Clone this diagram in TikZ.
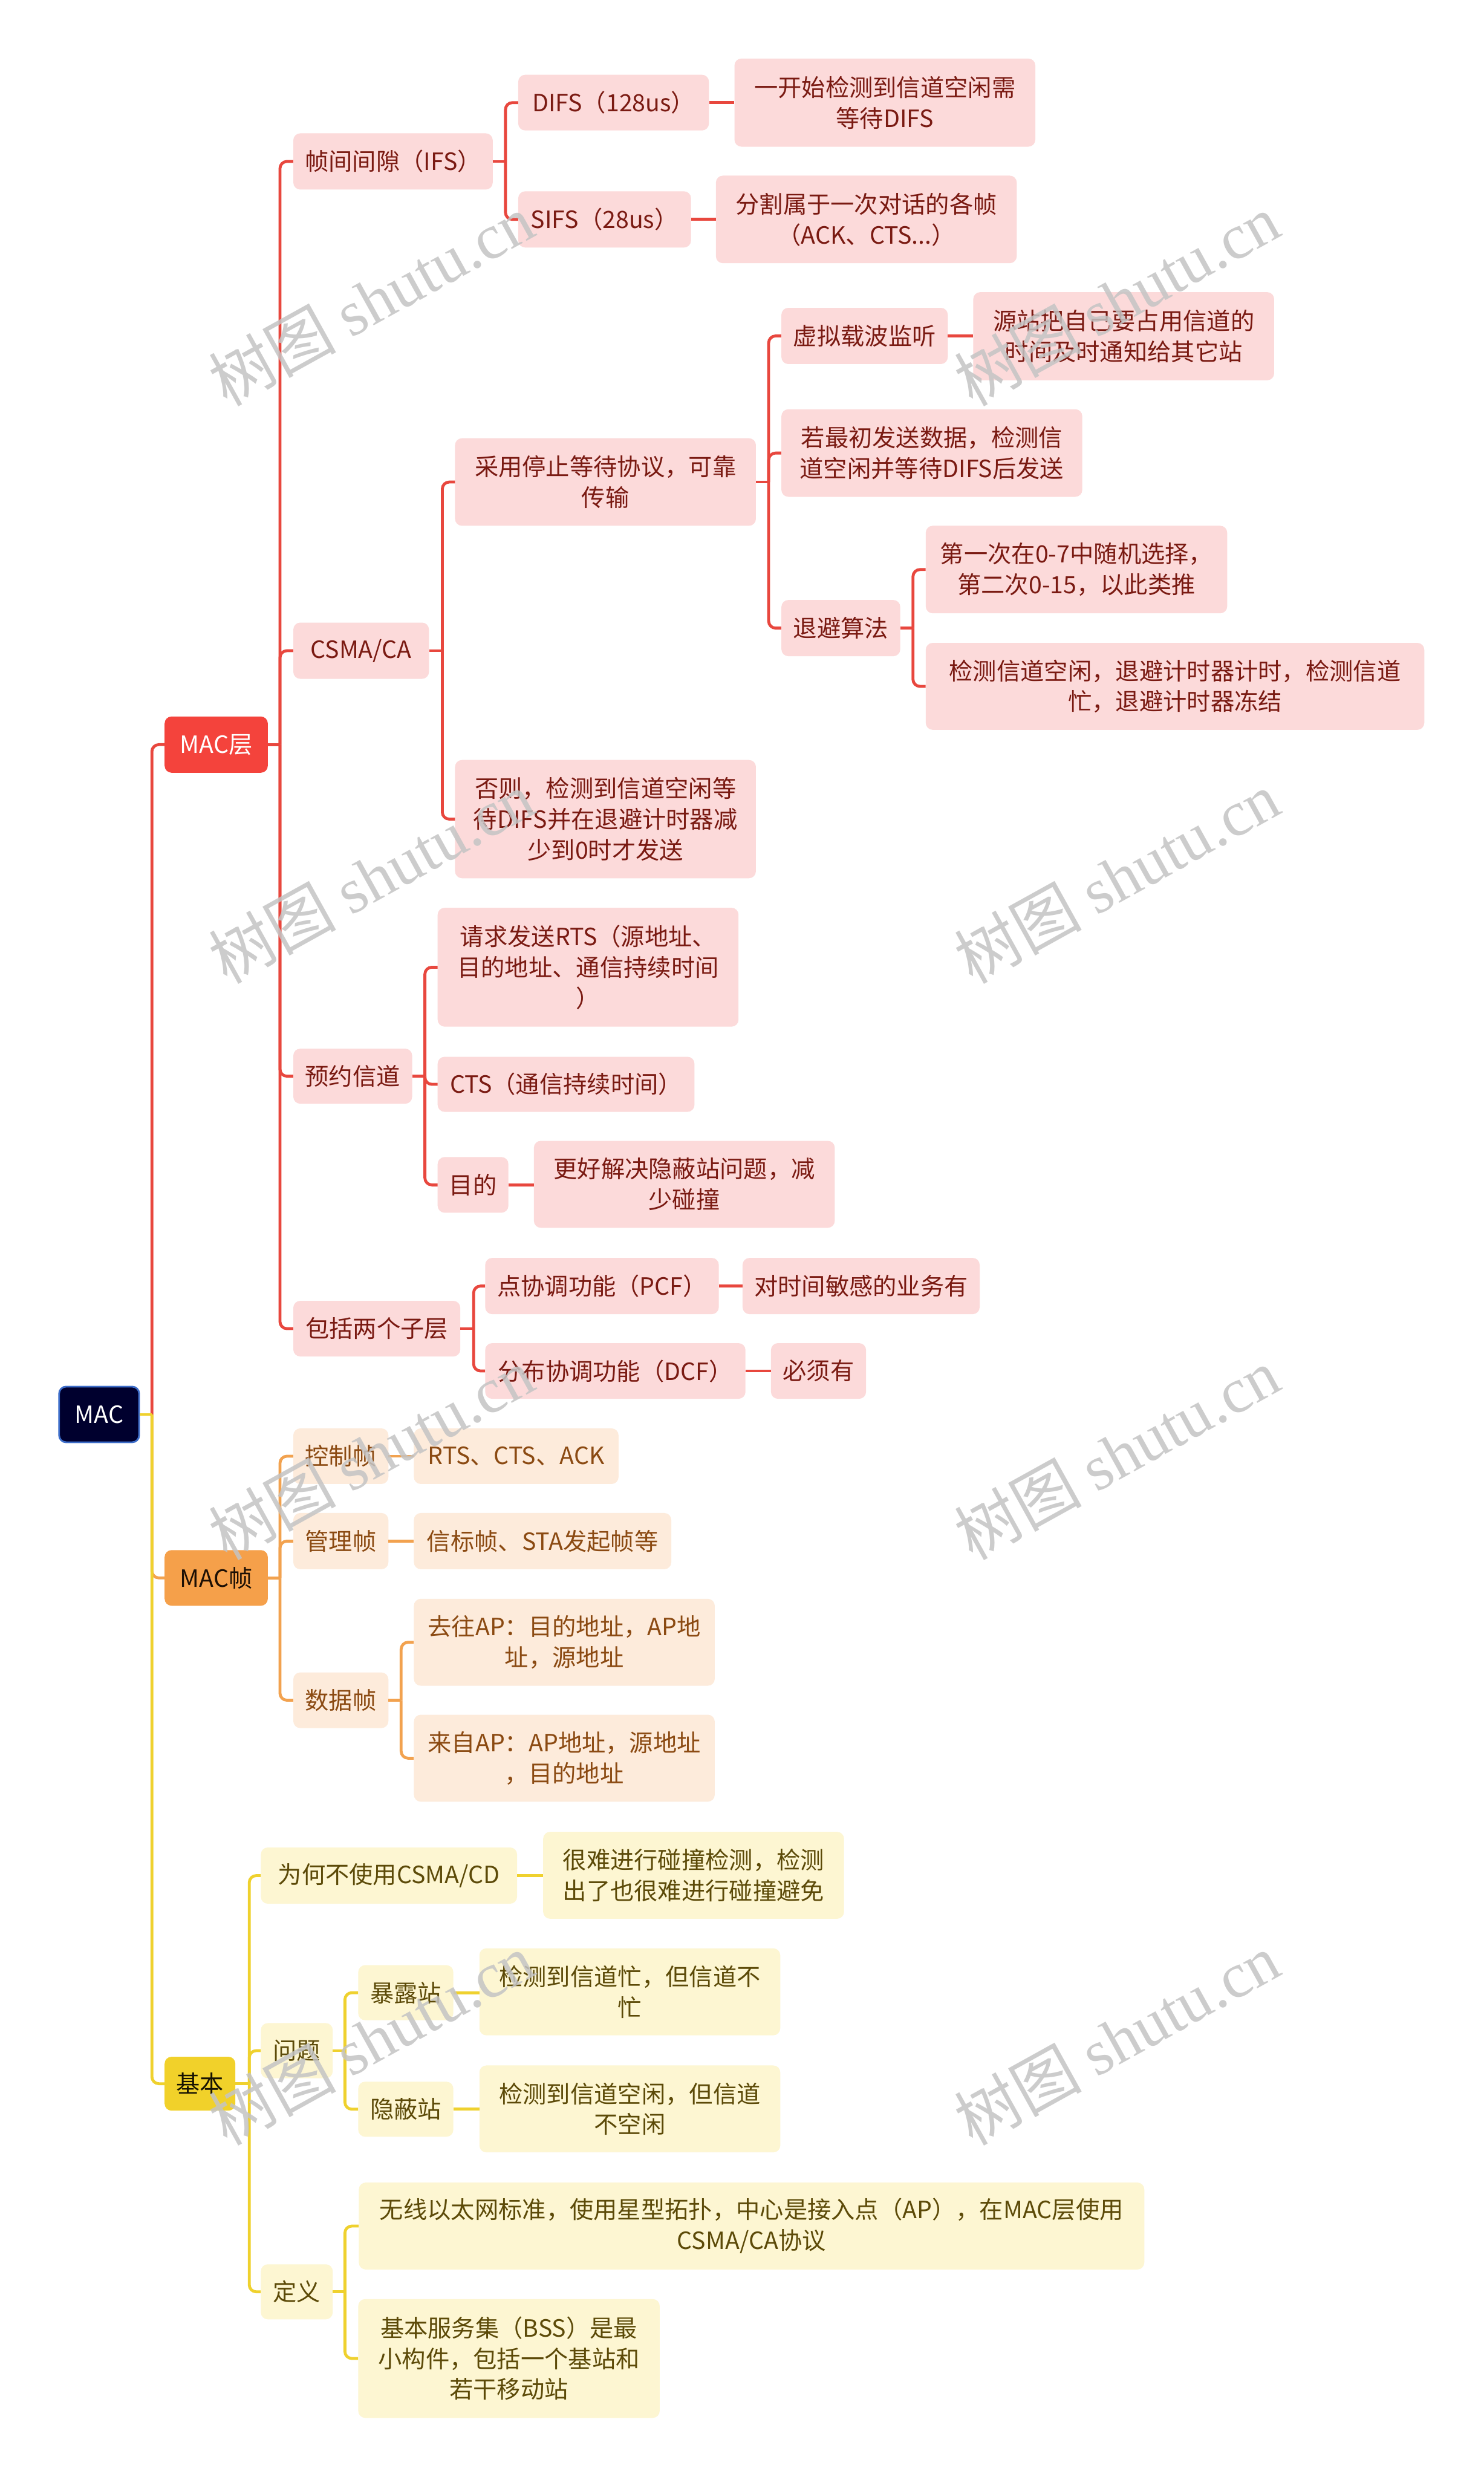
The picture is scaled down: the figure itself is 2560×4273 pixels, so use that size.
\documentclass[tikz,border=0pt]{standalone}
\usepackage{fontspec}
\setmainfont{Noto Sans CJK SC}
\newfontfamily\wmserif{Liberation Serif}
\newfontfamily\wmcjk{Noto Sans CJK SC}
\definecolor{redline}{HTML}{E8473E}
\definecolor{redfill}{HTML}{FCDADA}
\definecolor{redtext}{HTML}{7A1A12}
\definecolor{redmain}{HTML}{F4433C}
\definecolor{orgline}{HTML}{F2A24F}
\definecolor{orgfill}{HTML}{FDEBDB}
\definecolor{orgtext}{HTML}{8B4A12}
\definecolor{orgmain}{HTML}{F5A04A}
\definecolor{yelline}{HTML}{EFD12E}
\definecolor{yelfill}{HTML}{FDF6D2}
\definecolor{yeltext}{HTML}{5C4A08}
\definecolor{yelmain}{HTML}{F1D12A}
\definecolor{rootfill}{HTML}{00002E}
\definecolor{rootdraw}{HTML}{3C6CC8}
\definecolor{wmgray}{HTML}{C4C4C4}
\tikzset{
  base/.style={rounded corners=12pt, inner sep=0pt, align=center, font=\fontsize{41}{53}\selectfont},
  rbox/.style={base, fill=redfill, text=redtext},
  obox/.style={base, fill=orgfill, text=orgtext},
  ybox/.style={base, fill=yelfill, text=yeltext},
  rootbox/.style={base, fill=rootfill, draw=rootdraw, line width=3pt, text=white},
  redl/.style={draw=redline, line width=5pt},
  orgl/.style={draw=orgline, line width=5pt},
  yell/.style={draw=yelline, line width=5pt},
  wm/.style={text=wmgray, opacity=0.85, rotate=29, inner sep=0pt, font=\fontsize{110}{120}\selectfont}
}
\newcommand{\mmnode}[7]{\node[#6, minimum width={#4-#2}, minimum height={#5-#3}] (#1) at ({(#2+#4)/2},{(#3+#5)/2}) {#7};}
\newcommand{\conn}[4]{\draw[#1] (#2.east) -- (#3,0 |- #2.east); \draw[#1,rounded corners=12pt] (#3,0 |- #2.east) |- (#4.west);}
\newcommand{\single}[3]{\draw[#1] (#2.east) -- (#2.east -| #3.west);}
\begin{document}
\begin{tikzpicture}[x=1pt,y=-1pt]
\useasboundingbox (0,0) rectangle (2560,4273);
\fill[white] (0,0) rectangle (2560,4273);
% root and level 1
\mmnode{mac}{102}{2392}{240}{2488}{rootbox}{MAC}
\mmnode{macl}{284}{1236}{462}{1333}{base, fill=redmain, text=white}{MAC层}
\mmnode{macf}{284}{2674}{462}{2770}{base, fill=orgmain, text=black!80!orgtext}{MAC帧}
\mmnode{basic}{284}{3548}{406}{3641}{base, fill=yelmain, text=black!75!yeltext}{基本}
% MAC layer branch
\mmnode{ifs}{506}{230}{850}{327}{rbox}{帧间间隙（IFS）}
\mmnode{csma}{506}{1074}{740}{1171}{rbox}{CSMA/CA}
\mmnode{yy}{506}{1809}{711}{1904}{rbox}{预约信道}
\mmnode{bk}{506}{2244}{794}{2340}{rbox}{包括两个子层}
\mmnode{difs}{894}{129}{1223}{225}{rbox}{DIFS（128us）}
\mmnode{sifs}{894}{330}{1192}{427}{rbox}{SIFS（28us）}
\mmnode{dd}{1267}{101}{1786}{253}{rbox}{一开始检测到信道空闲需\\等待DIFS}
\mmnode{ss}{1235}{303}{1754}{454}{rbox}{分割属于一次对话的各帧\\（ACK、CTS...）}
\mmnode{ty}{785}{756}{1304}{907}{rbox}{采用停止等待协议，可靠\\传输}
\mmnode{fz}{785}{1311}{1304}{1515}{rbox}{否则，检测到信道空闲等\\待DIFS并在退避计时器减\\少到0时才发送}
\mmnode{xn}{1348}{531}{1635}{628}{rbox}{虚拟载波监听}
\mmnode{yz}{1679}{504}{2198}{656}{rbox}{源站把自己要占用信道的\\时间及时通知给其它站}
\mmnode{rz}{1348}{706}{1867}{857}{rbox}{若最初发送数据，检测信\\道空闲并等待DIFS后发送}
\mmnode{ba}{1348}{1035}{1553}{1132}{rbox}{退避算法}
\mmnode{ba1}{1597}{907}{2117}{1058}{rbox}{第一次在0-7中随机选择，\\第二次0-15，以此类推}
\mmnode{ba2}{1597}{1109}{2457}{1259}{rbox}{检测信道空闲，退避计时器计时，检测信道\\忙，退避计时器冻结}
\mmnode{rts}{755}{1566}{1274}{1771}{rbox}{请求发送RTS（源地址、\\目的地址、通信持续时间\\）}
\mmnode{cts}{755}{1823}{1198}{1918}{rbox}{CTS（通信持续时间）}
\mmnode{md}{755}{1996}{877}{2092}{rbox}{目的}
\mmnode{gh}{921}{1968}{1440}{2118}{rbox}{更好解决隐蔽站问题，减\\少碰撞}
\mmnode{pcf}{837}{2170}{1240}{2267}{rbox}{点协调功能（PCF）}
\mmnode{dcf}{837}{2317}{1286}{2413}{rbox}{分布协调功能（DCF）}
\mmnode{ds}{1281}{2170}{1690}{2267}{rbox}{对时间敏感的业务有}
\mmnode{bx}{1330}{2317}{1494}{2413}{rbox}{必须有}
% MAC frame branch
\mmnode{kz}{506}{2464}{670}{2560}{obox}{控制帧}
\mmnode{gl}{506}{2610}{670}{2707}{obox}{管理帧}
\mmnode{sj}{506}{2885}{670}{2981}{obox}{数据帧}
\mmnode{rca}{714}{2464}{1067}{2560}{obox}{RTS、CTS、ACK}
\mmnode{xb}{714}{2610}{1158}{2707}{obox}{信标帧、STA发起帧等}
\mmnode{qw}{714}{2758}{1233}{2908}{obox}{去往AP：目的地址，AP地\\址，源地址}
\mmnode{lz}{714}{2958}{1233}{3108}{obox}{来自AP：AP地址，源地址\\，目的地址}
% basic branch
\mmnode{wh}{450}{3187}{892}{3284}{ybox}{为何不使用CSMA/CD}
\mmnode{wt}{450}{3490}{574}{3585}{ybox}{问题}
\mmnode{dy}{450}{3906}{574}{4001}{ybox}{定义}
\mmnode{hn}{937}{3160}{1456}{3310}{ybox}{很难进行碰撞检测，检测\\出了也很难进行碰撞避免}
\mmnode{bl}{618}{3390}{782}{3485}{ybox}{暴露站}
\mmnode{yb}{618}{3591}{782}{3686}{ybox}{隐蔽站}
\mmnode{jm}{827}{3361}{1346}{3511}{ybox}{检测到信道忙，但信道不\\忙}
\mmnode{jk}{827}{3563}{1346}{3713}{ybox}{检测到信道空闲，但信道\\不空闲}
\mmnode{wx}{619}{3765}{1974}{3915}{ybox}{无线以太网标准，使用星型拓扑，中心是接入点（AP），在MAC层使用\\CSMA/CA协议}
\mmnode{bss}{618}{3966}{1138}{4171}{ybox}{基本服务集（BSS）是最\\小构件，包括一个基站和\\若干移动站}
% connectors: root
\conn{redl}{mac}{262}{macl}
\conn{orgl}{mac}{262}{macf}
\conn{yell}{mac}{262}{basic}
% red
\foreach \c in {ifs,csma,yy,bk} {\conn{redl}{macl}{483}{\c}}
\foreach \c in {difs,sifs} {\conn{redl}{ifs}{872}{\c}}
\single{redl}{difs}{dd}
\single{redl}{sifs}{ss}
\foreach \c in {ty,fz} {\conn{redl}{csma}{763}{\c}}
\foreach \c in {xn,rz,ba} {\conn{redl}{ty}{1326}{\c}}
\single{redl}{xn}{yz}
\foreach \c in {ba1,ba2} {\conn{redl}{ba}{1575}{\c}}
\foreach \c in {rts,cts,md} {\conn{redl}{yy}{733}{\c}}
\single{redl}{md}{gh}
\foreach \c in {pcf,dcf} {\conn{redl}{bk}{817}{\c}}
\single{redl}{pcf}{ds}
\single{redl}{dcf}{bx}
% orange
\foreach \c in {kz,gl,sj} {\conn{orgl}{macf}{483}{\c}}
\single{orgl}{kz}{rca}
\single{orgl}{gl}{xb}
\foreach \c in {qw,lz} {\conn{orgl}{sj}{692}{\c}}
% yellow
\foreach \c in {wh,wt,dy} {\conn{yell}{basic}{430}{\c}}
\single{yell}{wh}{hn}
\foreach \c in {bl,yb} {\conn{yell}{wt}{595}{\c}}
\single{yell}{bl}{jm}
\single{yell}{yb}{jk}
\foreach \c in {wx,bss} {\conn{yell}{dy}{595}{\c}}
% watermarks
\node[wm] (wm1) at (640,517) {{\wmcjk 树图} {\wmserif shutu.cn}};
\node[wm] (wm2) at (1926,517) {{\wmcjk 树图} {\wmserif shutu.cn}};
\node[wm] (wm3) at (640,1513) {{\wmcjk 树图} {\wmserif shutu.cn}};
\node[wm] (wm4) at (1926,1513) {{\wmcjk 树图} {\wmserif shutu.cn}};
\node[wm] (wm5) at (640,2508) {{\wmcjk 树图} {\wmserif shutu.cn}};
\node[wm] (wm6) at (1926,2508) {{\wmcjk 树图} {\wmserif shutu.cn}};
\node[wm] (wm7) at (640,3517) {{\wmcjk 树图} {\wmserif shutu.cn}};
\node[wm] (wm8) at (1926,3517) {{\wmcjk 树图} {\wmserif shutu.cn}};
\end{tikzpicture}
\end{document}
